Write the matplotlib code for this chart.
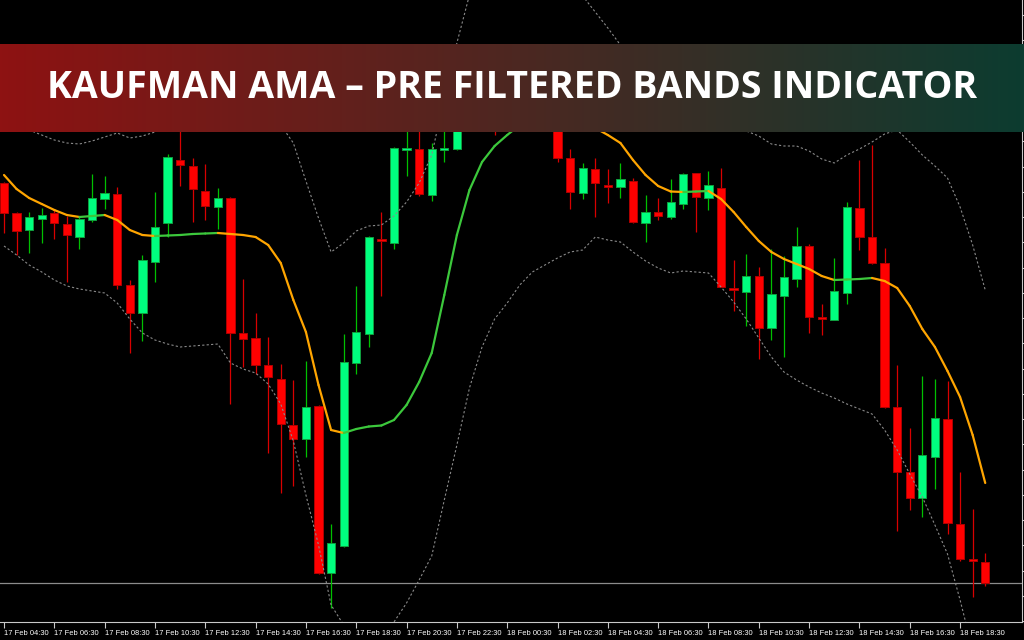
import numpy as np
import matplotlib
matplotlib.use("Agg")
import matplotlib.pyplot as plt
from matplotlib.collections import LineCollection

# 30 min bars, prices in points
opens = [457, 427, 410, 421, 427, 416, 403, 420, 441, 446, 355, 327, 378, 417, 480, 474, 449, 433, 442, 307,
         302, 275, 261, 215, 201, 234, 67, 94, 277, 306, 401, 397, 490, 491, 445, 490, 491, 540, 562, 548,
         528, 560, 552, 570, 525, 482, 447, 471, 455, 453, 459, 417, 428, 423, 436, 467, 442, 452, 352, 348,
         364, 312, 344, 361, 394, 323, 320, 347, 432, 403, 377, 233, 168, 142, 183, 221, 116, 81, 78]
highs = [458, 428, 428, 432, 431, 424, 424, 466, 464, 453, 360, 385, 448, 486, 520, 482, 476, 452, 443, 361,
         327, 303, 276, 260, 279, 235, 116, 306, 354, 404, 428, 493, 525, 520, 497, 530, 550, 572, 578, 566,
         570, 585, 580, 582, 535, 491, 477, 482, 471, 477, 462, 445, 442, 461, 467, 467, 469, 472, 380, 386,
         373, 391, 384, 413, 396, 336, 382, 438, 480, 495, 392, 275, 212, 264, 261, 259, 168, 131, 87]
lows = [407, 385, 387, 397, 401, 358, 391, 418, 431, 351, 287, 299, 358, 403, 454, 418, 420, 411, 236, 273,
        266, 187, 147, 154, 183, 66, 32, 93, 266, 293, 344, 391, 464, 444, 439, 478, 490, 530, 540, 505,
        520, 545, 540, 525, 478, 431, 441, 423, 437, 442, 417, 398, 420, 421, 431, 408, 430, 353, 329, 314,
        281, 300, 283, 353, 307, 305, 320, 336, 390, 376, 232, 109, 130, 123, 151, 106, 79, 43, 54]
closes = [427, 409, 423, 425, 417, 405, 421, 442, 447, 355, 327, 380, 413, 483, 475, 451, 434, 442, 307, 301,
          275, 263, 216, 201, 233, 67, 97, 278, 308, 403, 399, 492, 492, 446, 491, 492, 540, 562, 548, 528,
          560, 552, 570, 535, 482, 448, 472, 457, 453, 461, 418, 428, 424, 438, 466, 443, 455, 353, 350, 364,
          312, 346, 363, 394, 323, 321, 349, 433, 403, 377, 233, 168, 142, 185, 222, 117, 81, 79, 57]

# Kaufman AMA and its pre filtered bands
ama = [465, 451, 442, 436, 430, 425, 423, 424, 425, 420, 410, 405, 404, 404.5, 405, 406, 406.5, 407, 406, 405,
       403, 395, 377, 340, 308, 255, 210, 207, 211, 213.5, 214.5, 220, 235, 258, 287, 345, 405, 450, 478, 494,
       505, 515, 520, 522, 521, 520, 516, 512, 505, 497, 480, 465, 454, 448.5, 448, 448.5, 449, 441, 428, 413,
       399, 388, 381, 376, 371, 364, 360, 360.5, 361, 362, 359, 352, 334, 311, 293, 269, 243, 205, 157]
upper_band = [520, 515, 510, 505, 500, 497, 496, 499, 503, 507, 502, 504, 508, 520, 535, 545, 550, 548, 545, 540,
              535, 525, 515, 497, 459, 422, 388, 397, 409, 414, 415, 424, 438, 457, 485, 542, 597, 645, 680, 700,
              710, 710, 700, 680, 670, 658, 644, 628, 612, 595, 578, 560, 545, 535, 528, 522, 518, 514, 511, 509,
              504, 496, 494, 494, 489, 481, 477, 485, 491, 498, 506, 510, 498, 485, 474, 462, 433, 395, 350]
lower_band = [394, 385, 375, 368, 360, 354, 351, 349, 347, 337, 321, 307, 300, 296, 293, 294, 295, 296, 277, 271,
              267, 256, 236, 199, 145, 95, 35, 15, 0, -5, 2, 18, 37, 60, 84, 140, 195, 252, 293, 321,
              337, 355, 368, 375, 382, 388, 390, 403, 400, 398, 388, 379, 372, 367, 369, 368, 367, 353, 338, 321,
              302, 283, 268, 260, 253, 247, 242, 236, 231, 226, 210, 190, 166, 143, 115, 86, 40, -10, -60]

time_labels = ["17 Feb 04:30", "17 Feb 06:30", "17 Feb 08:30", "17 Feb 10:30", "17 Feb 12:30",
               "17 Feb 14:30", "17 Feb 16:30", "17 Feb 18:30", "17 Feb 20:30", "17 Feb 22:30",
               "18 Feb 00:30", "18 Feb 02:30", "18 Feb 04:30", "18 Feb 06:30", "18 Feb 08:30",
               "18 Feb 10:30", "18 Feb 12:30", "18 Feb 14:30", "18 Feb 16:30", "18 Feb 18:30"]
title = "KAUFMAN AMA \u2013 PRE FILTERED BANDS INDICATOR"

W, H = 1024, 640
fig = plt.figure(figsize=(W / 100, H / 100), dpi=100, facecolor="black")
ax = fig.add_axes([0, 18 / H, 1022 / W, 622 / H], facecolor="black")

x = np.arange(len(opens))
o = np.array(opens, float)
c = np.array(closes, float)
up = c >= o

# wicks
ax.vlines(x[up], np.array(lows)[up], np.array(highs)[up], color="#00c000", lw=0.9, zorder=2)
ax.vlines(x[~up], np.array(lows)[~up], np.array(highs)[~up], color="#d80000", lw=0.9, zorder=2)

# bodies
body_lo = np.minimum(o, c)
body_h = np.maximum(np.abs(c - o), 2.0)
ax.bar(x[up], body_h[up], bottom=body_lo[up], width=0.66, color="#00ff7f",
       edgecolor="#10a040", linewidth=0.7, zorder=3)
ax.bar(x[~up], body_h[~up], bottom=body_lo[~up], width=0.66, color="#ff0000",
       edgecolor="#b00000", linewidth=0.7, zorder=3)

# bands
ax.plot(x, upper_band, color="#8a8a8a", lw=0.8, ls=(0, (2, 2)), zorder=4)
ax.plot(x, lower_band, color="#8a8a8a", lw=0.8, ls=(0, (2, 2)), zorder=4)

# AMA coloured by slope
a = np.array(ama, float)
segs = [[(x[i], a[i]), (x[i + 1], a[i + 1])] for i in range(len(a) - 1)]
cols = ["#3cc83c" if a[i + 1] > a[i] else "#ffa500" for i in range(len(a) - 1)]
ax.add_collection(LineCollection(segs, colors=cols, linewidths=1.6, zorder=5, capstyle="round"))

# bid line
ax.axhline(closes[-1], color="#8c8c8c", lw=0.9, zorder=1)

ax.set_xlim(-4 / 12.58, 1018 / 12.58)
ax.set_ylim(18, 640)

for s in ["left", "top"]:
    ax.spines[s].set_visible(False)
ax.spines["bottom"].set_color("#c8c8c8")
ax.spines["right"].set_color("#c8c8c8")

ax.set_xticks(x[::4][:len(time_labels)])
ax.set_xticklabels(time_labels, ha="left", fontsize=5.4, color="white", family="Liberation Sans")
ax.tick_params(axis="x", colors="#c8c8c8", length=4, width=0.8, pad=1.5, labelcolor="white")
ax.yaxis.tick_right()
ax.set_yticks(np.arange(19, 640, 25.25))
ax.tick_params(axis="y", colors="#c8c8c8", length=3, width=0.8, labelright=False)

# banner
bax = fig.add_axes([0, 508 / H, 1, 88 / H], zorder=10)
left = np.array([0x8e, 0x12, 0x12]) / 255
right = np.array([0x0c, 0x3c, 0x30]) / 255
t = np.linspace(0, 1, 512)[None, :, None]
grad = left + (right - left) * t
bax.imshow(grad, aspect="auto", extent=[0, 1, 0, 1])
bax.set_axis_off()
bax.text(0.5, 0.5, title, color="white", fontsize=27, fontweight="bold", family="Open Sans",
         ha="center", va="center", transform=bax.transAxes)

fig.savefig("out.png", dpi=100, facecolor="black")
